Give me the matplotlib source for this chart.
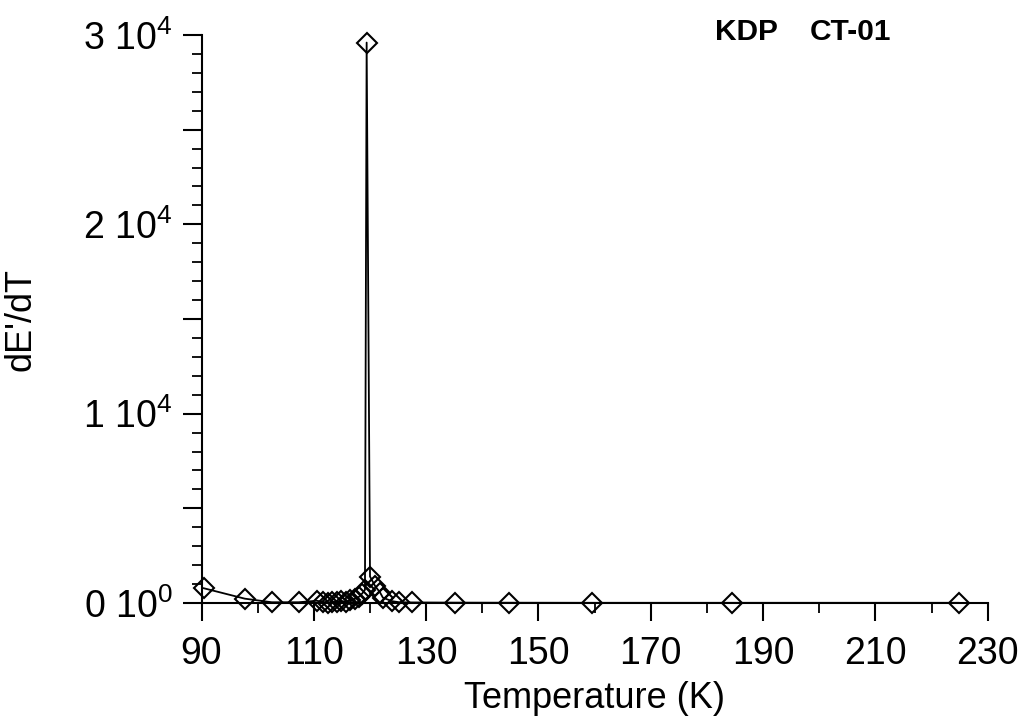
"""
dE'/dT vs temperature for KDP sample CT-01.
Spike at the ferroelectric transition near 120 K.
"""

import matplotlib
matplotlib.use("Agg")
import matplotlib.pyplot as plt
from matplotlib.ticker import FixedLocator, MultipleLocator

plt.rcParams["font.family"] = ["Liberation Sans", "DejaVu Sans"]
plt.rcParams["mathtext.fontset"] = "custom"
plt.rcParams["mathtext.rm"] = "Liberation Sans"
plt.rcParams["mathtext.it"] = "Liberation Sans:italic"
plt.rcParams["mathtext.bf"] = "Liberation Sans:bold"

# data
TEMP_K = [90.4, 97.7, 102.5, 107.3, 110.5, 111.6, 112.5, 113.3, 114.1,
          114.9, 115.7, 116.5, 117.3, 118.0, 118.6, 119.1, 119.4, 120.0,
          120.9, 121.8, 122.3, 123.9, 125.2, 127.4, 135.1, 144.7, 159.5,
          184.5, 224.8]
DEDT = [780, 230, 40, 40, 120, 60, 20, 80, 30, 110, 60, 150, 220, 320,
        500, 700, 29600, 1400, 900, 550, 280, 100, 40, 30, 20, 15, 10,
        10, 10]

Y_TICKS = [0, 10000, 20000, 30000]
Y_TICK_LABELS = ["0 10$^{0}$", "1 10$^{4}$", "2 10$^{4}$", "3 10$^{4}$"]
X_TICKS = [90, 110, 130, 150, 170, 190, 210, 230]

SAMPLE = "KDP"
RUN = "CT-01"


def main():
    fig = plt.figure(figsize=(10.21, 7.16), dpi=100)
    ax = fig.add_axes([0.1974, 0.1578, 0.770, 0.7933])

    ax.plot(TEMP_K, DEDT, "-", color="black", linewidth=1.3,
            marker="D", markersize=10.5, markerfacecolor="none",
            markeredgecolor="black", markeredgewidth=1.5, clip_on=False)

    ax.set_xlim(90, 230)
    ax.set_ylim(0, 30000)

    for side in ("top", "right"):
        ax.spines[side].set_visible(False)
    for side in ("left", "bottom"):
        ax.spines[side].set_linewidth(1.5)

    # long ticks every 5000, labelled only at the decades of 10^4
    long_ticks = list(range(0, 30001, 5000))
    labels = [Y_TICK_LABELS[Y_TICKS.index(t)] if t in Y_TICKS else ""
              for t in long_ticks]
    ax.yaxis.set_major_locator(FixedLocator(long_ticks))
    ax.set_yticklabels(labels)
    ax.yaxis.set_minor_locator(MultipleLocator(1000))

    ax.xaxis.set_major_locator(FixedLocator(X_TICKS))
    ax.xaxis.set_minor_locator(MultipleLocator(10))

    ax.tick_params(axis="x", which="major", direction="out", length=13,
                   width=1.5, labelsize=27, pad=11)
    ax.tick_params(axis="x", which="minor", direction="out", length=7,
                   width=1.3)
    ax.tick_params(axis="y", which="major", direction="out", length=14,
                   width=1.5, labelsize=27, pad=7)
    ax.tick_params(axis="y", which="minor", direction="out", length=7,
                   width=1.3)

    ax.set_xlabel("Temperature (K)", fontsize=26, labelpad=6)
    ax.set_ylabel("dE'/dT", fontsize=26)
    # ylabel anchor is its right edge (rotated text, va="bottom")
    ax.yaxis.set_label_coords(-0.208, 0.5)

    fig.text(715 / 1021, 1 - 32 / 716, SAMPLE, fontsize=21.5,
             fontweight="bold", ha="left", va="center")
    fig.text(810 / 1021, 1 - 32 / 716, RUN, fontsize=21.5,
             fontweight="bold", ha="left", va="center")

    fig.savefig("out.png", dpi=100)


if __name__ == "__main__":
    main()
